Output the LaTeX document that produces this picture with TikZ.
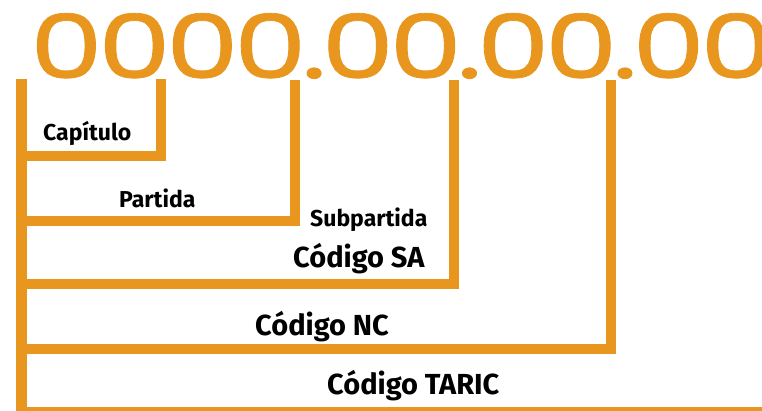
\documentclass[tikz,border=0pt]{standalone}
\usepackage{fontspec}
\setmainfont{Fira Sans}
\newfontfamily\digitfont{Poppins}[LetterSpace=-4,FakeBold=0.8]
\definecolor{codeorange}{HTML}{E8961D}
\tikzset{
  bar/.style={draw=codeorange, line width=10.5pt, line join=miter},
  smalllabel/.style={font=\bfseries\fontsize{23}{26}\selectfont, inner sep=0pt, anchor=base west},
  biglabel/.style={font=\bfseries\fontsize{29}{32}\selectfont, inner sep=0pt, anchor=base west},
}
\begin{document}
\begin{tikzpicture}[x=1pt,y=-1pt]
        \useasboundingbox (0,0) rectangle (762,411);
        % Code number
        \node[inner sep=0pt, anchor=north west, text=codeorange] (code) at (30,13)
          {\resizebox{742pt}{65pt}{\digitfont 0000.00.00.00}};

        % Tick tops under the digit groups
        \coordinate (t0) at (21.5,79);
        \coordinate (t1) at (161,79);
        \coordinate (t2) at (295,80);
        \coordinate (t3) at (454,80);
        \coordinate (t4) at (611,80);
        \coordinate (tend) at (780,412);

        % Brackets
        \draw[bar] (t0) |- (tend);
        \draw[bar] (21.5,156) -| (t1);
        \draw[bar] (21.5,221) -| (t2);
        \draw[bar] (21.5,284) -| (t3);
        \draw[bar] (21.5,349) -| (t4);

        % Labels
        \node[smalllabel] (cap) at (43,141) {Capítulo};
        \node[smalllabel] (par) at (119,208) {Partida};
        \node[smalllabel] (sub) at (310,227) {Subpartida};
        \node[biglabel] (sa) at (293,268) {Código SA};
        \node[biglabel] (nc) at (255,335) {Código NC};
        \node[biglabel] (taric) at (327,394) {Código TARIC};
\end{tikzpicture}
\end{document}
